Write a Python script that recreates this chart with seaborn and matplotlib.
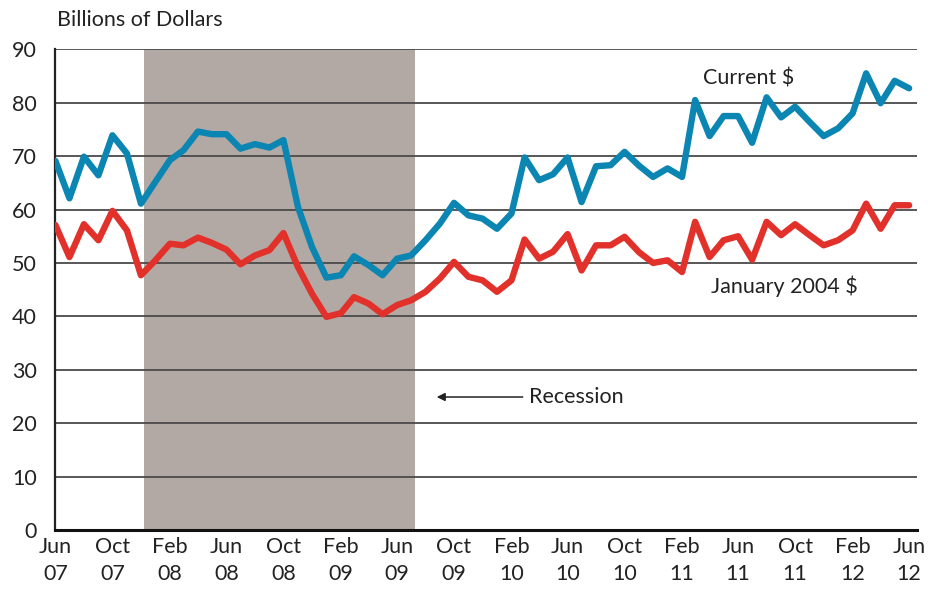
import pandas as pd
import matplotlib.pyplot as plt
import matplotlib.dates as mdates
import seaborn as sns

# monthly values, Jun 2007 - Jun 2012 (billions of dollars)
months = pd.date_range("2007-06-01", "2012-06-01", freq="MS")

current = [69.1, 62.1, 69.9, 66.4, 73.9, 70.5, 61.1, 65.2, 69.25, 71.1,
           74.6, 74.1, 74.1, 71.4, 72.25, 71.6, 73.0, 60.5, 53.0, 47.25,
           47.7, 51.25, 49.6, 47.7, 50.8, 51.4, 54.25, 57.4, 61.25, 58.9,
           58.3, 56.4, 59.25, 69.75, 65.5, 66.6, 69.75, 61.4, 68.1, 68.3,
           70.8, 68.2, 66.1, 67.7, 66.1, 80.5, 73.75, 77.5, 77.5, 72.5,
           81.0, 77.25, 79.25, 76.4, 73.75, 75.2, 78.0, 85.5, 79.9, 84.1,
           82.7]

real_2004 = [57.1, 51.1, 57.25, 54.25, 59.75, 56.1, 47.7, 50.5, 53.6, 53.3,
             54.75, 53.75, 52.5, 49.75, 51.4, 52.4, 55.6, 49.25, 44.25, 39.9,
             40.6, 43.6, 42.4, 40.4, 42.1, 43.0, 44.6, 47.1, 50.2, 47.4,
             46.75, 44.6, 46.75, 54.4, 50.8, 52.1, 55.4, 48.6, 53.3, 53.3,
             54.9, 52.0, 50.0, 50.5, 48.3, 57.7, 51.1, 54.25, 55.0, 50.6,
             57.7, 55.2, 57.25, 55.2, 53.3, 54.25, 56.1, 61.1, 56.4, 60.8,
             60.8]

recession_start = pd.Timestamp("2007-12-07")
recession_end = pd.Timestamp("2009-07-10")

df = pd.DataFrame({"month": months, "Current $": current, "January 2004 $": real_2004})
long_df = df.melt(id_vars="month", var_name="series", value_name="value")

sns.set_style("white")
plt.rcParams['font.family'] = ['Lato', 'DejaVu Sans']
fs = 15.5

fig = plt.figure(figsize=(9.3, 5.91), dpi=100)
ax = fig.add_axes([0.0591, 0.1032, 0.927, 0.8134])

ax.axvspan(recession_start, recession_end, color='#b3a9a4', lw=0, zorder=0)
for y in range(10, 100, 10):
    ax.axhline(y, color='#4a4a4a', lw=1.3, zorder=1)

sns.lineplot(data=long_df, x="month", y="value", hue="series",
             palette={"Current $": "#0b85b2", "January 2004 $": "#e2302a"},
             lw=4.6, ax=ax, legend=False, zorder=3)

ax.set_ylim(0, 90)
ax.set_xlim(pd.Timestamp("2007-05-31"), pd.Timestamp("2012-06-18"))
ax.set_yticks(range(0, 100, 10))
ax.set_xlabel("")
ax.set_ylabel("")

ticks = pd.date_range("2007-06-01", "2012-06-01", freq="4MS")
ax.set_xticks(ticks)
ax.xaxis.set_major_formatter(mdates.DateFormatter("%b\n%y"))
ax.tick_params(axis='x', direction='in', length=9, width=1.2, color='#333333',
               pad=5, labelsize=fs, labelcolor='#222222')
ax.tick_params(axis='y', length=0, pad=13, labelsize=fs, labelcolor='#222222')
for lab in ax.get_xticklabels():
    lab.set_linespacing(1.45)

for side in ['top', 'right']:
    ax.spines[side].set_visible(False)
ax.spines['left'].set_color('#222222')
ax.spines['left'].set_linewidth(1.6)
ax.spines['bottom'].set_color('#111111')
ax.spines['bottom'].set_linewidth(2.2)
ax.spines['bottom'].set_zorder(4)

fig.text(0.061, 0.966, "Billions of Dollars", fontsize=fs, color='#222222',
         ha='left', va='center')

ax.text(pd.Timestamp("2011-03-18"), 84.6, "Current $", fontsize=fs,
        color='#222222', ha='left', va='center')
ax.text(pd.Timestamp("2011-04-05"), 45.6, "January 2004 $", fontsize=fs,
        color='#222222', ha='left', va='center')
ax.annotate("Recession", xy=(pd.Timestamp("2009-08-25"), 24.9),
            xytext=(pd.Timestamp("2010-03-10"), 24.9),
            fontsize=fs, color='#222222', va='center', ha='left',
            arrowprops=dict(arrowstyle='-|>', color='#222222', lw=1.1,
                            mutation_scale=12, shrinkA=2, shrinkB=0))

fig.savefig("out.png", dpi=100)
